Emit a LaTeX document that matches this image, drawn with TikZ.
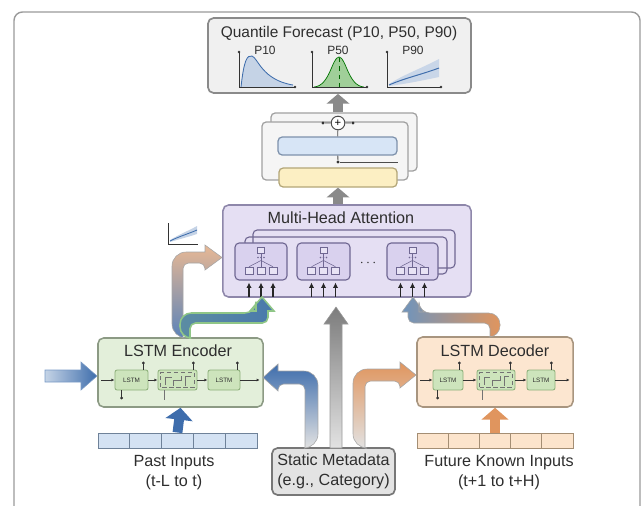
\documentclass[tikz,border=0pt]{standalone}
\usepackage{fontspec}
\setmainfont{Liberation Sans}
\usetikzlibrary{arrows.meta,positioning,calc}

\definecolor{txtgray}{HTML}{2E2E2E}
\definecolor{framegray}{HTML}{9A9A9A}
\definecolor{boxgray}{HTML}{F0F0F0}
\definecolor{edgegray}{HTML}{8A8A8A}
\definecolor{mhafill}{HTML}{E5DFF3}
\definecolor{mhaedge}{HTML}{8E87AA}
\definecolor{headfill}{HTML}{D9D1EE}
\definecolor{headedge}{HTML}{6F6792}
\definecolor{encfill}{HTML}{E3EFDA}
\definecolor{encedge}{HTML}{8C9A84}
\definecolor{decfill}{HTML}{FCE6D0}
\definecolor{decedge}{HTML}{A8957F}
\definecolor{cellfill}{HTML}{CDE4BC}
\definecolor{celledge}{HTML}{8DB07A}
\definecolor{pastfill}{HTML}{D4E2F3}
\definecolor{pastedge}{HTML}{6F8299}
\definecolor{futfill}{HTML}{FCE4CC}
\definecolor{futedge}{HTML}{A48E74}
\definecolor{metafill}{HTML}{E3E3E3}
\definecolor{metaedge}{HTML}{777777}
\definecolor{normfill}{HTML}{D7E5F6}
\definecolor{normedge}{HTML}{7E92AC}
\definecolor{grnfill}{HTML}{FCEFC3}
\definecolor{grnedge}{HTML}{B3A678}
\definecolor{arrowblue}{HTML}{3E6DAC}
\definecolor{arrowpale}{HTML}{C5D4E6}
\definecolor{arroworange}{HTML}{E0955E}
\definecolor{arrowtan}{HTML}{E8B894}
\definecolor{arrowgray}{HTML}{8A8A8A}
\definecolor{arrowteal}{HTML}{4A79AC}
\definecolor{arrowgreen}{HTML}{8FC687}
\definecolor{fadegray}{HTML}{E2E2E2}

\begin{document}
\begin{tikzpicture}[
		x=0.025cm, y=-0.025cm,
		>=Latex,
		label/.style={font=\fontsize{11.5}{14.2}\selectfont, text=txtgray, align=center},
		plabel/.style={font=\fontsize{8.5}{9}\selectfont, text=txtgray},
		qbox/.style={draw=edgegray, fill=boxgray, rounded corners=4pt, line width=1.2pt, inner sep=0pt},
		layer/.style={draw=edgegray!80, fill=black!4, rounded corners=3pt, line width=0.9pt, inner sep=0pt},
		bar/.style={rounded corners=3pt, line width=0.9pt, inner sep=0pt},
		mha/.style={draw=mhaedge, fill=mhafill, rounded corners=4pt, line width=1.1pt, inner sep=0pt},
		head/.style={draw=headedge, fill=headfill, rounded corners=3pt, line width=0.8pt, inner sep=0pt, minimum height=0.925cm},
		layerline/.style={draw=headedge, line width=0.8pt, rounded corners=3pt},
		minibox/.style={draw=headedge, fill=headfill!60, line width=0.4pt, inner sep=0pt},
		miniline/.style={draw=headedge, line width=0.4pt},
		lstmbox/.style={rounded corners=4pt, line width=1.1pt, inner sep=0pt},
		cell/.style={draw=celledge, fill=cellfill, rounded corners=1.5pt, line width=0.6pt, inner sep=0pt,
			minimum height=0.5cm, font=\fontsize{4.5}{5}\selectfont, text=txtgray},
		gateline/.style={draw=black!55, line width=0.4pt},
		flow/.style={draw=black!80, line width=0.5pt, -{Latex[length=2.2pt,width=2pt]}},
		knob/.style={draw=black!80, line width=0.5pt, -{Circle[length=2pt]}},
		stem/.style={draw=black!85, line width=0.9pt, -{Latex[length=3.8pt,width=3.8pt]}},
		dot/.style={circle, fill=black!80, inner sep=0pt, minimum size=2.4pt},
		incell/.style={line width=0.7pt, inner sep=0pt, minimum height=0.375cm},
		fatup/.style={line width=7pt, -{Triangle[width=19pt,length=8.5pt]}},
		axisline/.style={draw=black!80, line width=0.6pt}
	]
	\useasboundingbox (0,0) rectangle (644,506);
	\draw[framegray, line width=1pt, rounded corners=6pt] (14,506) -- (14,12) -- (640,12) -- (640,506);
	
	% quantile forecast
	\node[qbox, minimum width=6.575cm, minimum height=1.875cm] (quant) at (339.5,55.5) {};
	\node[label, font=\fontsize{11}{13}\selectfont] (qtitle) at (339,33) {Quantile Forecast (P10, P50, P90)};
	
	\fill[arrowblue!30] (241,87) .. controls (244,60) and (247,55) .. (252,56) .. controls (258,58) and (262,80) .. (293,85) -- (293,87) -- cycle;
	\draw[arrowblue, line width=0.6pt] (241,87) .. controls (244,60) and (247,55) .. (252,56) .. controls (258,58) and (262,80) .. (293,85);
	\draw[axisline] (239,52) -- (239,87) -- (295,87);
	\fill[black!80] (239,52) circle (1.4) (295,87) circle (1.4);
	\node[plabel] (p10) at (265,50) {P10};
	
	\fill[arrowgreen!85] (314,87) .. controls (330,86) and (332,57) .. (339,57) .. controls (346,57) and (348,86) .. (364,87) -- cycle;
	\draw[green!45!black, line width=0.5pt] (314,87) .. controls (330,86) and (332,57) .. (339,57) .. controls (346,57) and (348,86) .. (364,87);
	\draw[green!40!black, dashed, line width=0.3pt] (339,58) -- (339,87);
	\draw[axisline] (312,52) -- (312,87) -- (367,87);
	\fill[black!80] (312,52) circle (1.4) (367,87) circle (1.4);
	\node[plabel] (p50) at (338,50) {P50};
	
	\fill[arrowblue!28] (389,84) .. controls (405,74) and (420,69) .. (439,59) -- (439,77) .. controls (420,81) and (405,84) .. (389,86) -- cycle;
	\draw[arrowblue, line width=0.7pt] (389,85) .. controls (405,78) and (420,75) .. (439,68);
	\draw[axisline] (387,52) -- (387,87) -- (441,87);
	\fill[black!80] (387,52) circle (1.4) (441,87) circle (1.4);
	\node[plabel] (p90) at (413,50) {P90};
	
	% add & norm stack
	\node[layer, minimum width=3.65cm, minimum height=1.45cm] (back) at (344,142) {};
	\node[layer, minimum width=3.65cm, minimum height=1.45cm] (stack) at (335,151) {};
	\node[bar, draw=normedge, fill=normfill, minimum width=2.975cm, minimum height=0.45cm] (norm) at (337.5,146) {};
	\node[bar, draw=grnedge, fill=grnfill, minimum width=2.95cm, minimum height=0.475cm] (grn) at (338,177.5) {};
	\node[circle, draw=black!70, fill=white, line width=0.7pt, minimum size=0.34cm, inner sep=0pt,
	font=\fontsize{8}{8}\selectfont] (add) at (338,123) {+};
	\node[dot] (addl) at (323,123) {};
	\node[dot] (addr) at (353,123) {};
	\node[dot] (res) at (338,162) {};
	\draw[black!70, line width=0.6pt] (addl) -- (add) (addr) -- (add) (add) -- (norm) (res) -- (norm);
	\draw[black!70, line width=0.6pt] (res) -- (res -| grn.east);
	
	\draw[fatup, arrowgray, -{Triangle[width=16pt,length=7pt]}] (add.north |- back.north) -- (add.north |- quant.south);
	
	% multi-head attention
	\node[mha, minimum width=6.2cm, minimum height=2.3cm] (mha) at (347,251) {};
	\node[label] (mtitle) at (341,218) {Multi-Head Attention};
	\draw[layerline] (253,243) -- (253,230) -- (455,230) -- (455,268) -- (438,268);
	\draw[layerline] (245,243) -- (245,237) -- (447,237) -- (447,274) -- (438,274);
	\node[head, minimum width=1.3cm] (h1) at (261,261.5) {};
	\node[head, minimum width=1.325cm] (h2) at (323.5,261.5) {};
	\node[head, minimum width=1.275cm] (h3) at (412.5,261.5) {};
	\node[text=txtgray] (hdots) at (368,263) {$\cdots$};
	\foreach \h in {h1,h2,h3} {
		\node[minibox, minimum width=0.175cm, minimum height=0.15cm] (top\h) at ($(\h)+(0,-11)$) {};
		\foreach \d in {-3,0,3}
			\fill[headedge] ($(\h)+(\d,-4)$) circle (0.9);
		\foreach \d/\k in {-12/a,0/b,12/c} {
			\node[minibox, minimum width=0.2cm, minimum height=0.175cm] (\k\h) at ($(\h)+(\d,9)$) {};
			\draw[miniline] ($(\h)+(0,-1)$) -- (\k\h.north);
			\draw[stem] ($(\h.south)+(\d,16)$) -- ($(\h.south)+(\d,2)$);
		}
		\draw[miniline] (top\h) -- ($(\h)+(0,-1)$);
	}
	\draw[fatup, arrowgray, -{Triangle[width=16pt,length=7pt]}] (grn.south |- mha.north) -- (grn.south);
	
	% small forecast icon
	\fill[arrowblue!30] (170,240) .. controls (180,234) and (188,231) .. (197,226) -- (197,234) .. controls (188,237) and (180,239) .. (170,242) -- cycle;
	\draw[arrowblue, line width=0.6pt] (170,241) .. controls (180,236) and (188,234) .. (197,230);
	\draw[axisline, line width=0.4pt] (168,223) -- (168,244) -- (198,244);
	
	% lstm encoder
	\node[lstmbox, draw=encedge, fill=encfill, minimum width=4.125cm, minimum height=1.725cm] (enc) at (180.5,372.5) {};
	\node[label] (etitle) at (178,351) {LSTM Encoder};
	\node[cell, minimum width=0.825cm] (e1) at (131.5,380) {LSTM};
	\node[cell, minimum width=0.975cm] (e2) at (177.5,380) {};
	\node[cell, minimum width=0.8cm] (e3) at (224,380) {LSTM};
	\draw[flow] ($(enc.west |- e1.west)+(4,0)$) -- (e1);
	\draw[flow] (e1) -- (e2);
	\draw[flow] (e2) -- (e3);
	\draw[flow] (e3) -- ($(enc.east |- e3.east)+(-4,0)$);
	\draw[knob] ($(e1.north east)+(-5,0)$) -- ++(0,-8);
	\draw[knob] ($(e2.north east)+(-4,0)$) -- ++(0,-8);
	\draw[knob] ($(e3.north east)+(-3,0)$) -- ++(0,-8);
	\draw[knob] ($(e1.south west)+(7,0)$) -- ++(0,9);
	\draw[gateline] ($(e2.south west)+(7,0)$) -- ++(0,10);
	
	% lstm decoder
	\node[lstmbox, draw=decedge, fill=decfill, minimum width=3.9cm, minimum height=1.75cm] (dec) at (495,372) {};
	\node[label] (dtitle) at (495,351) {LSTM Decoder};
	\node[cell, minimum width=0.75cm] (d1) at (448,380) {LSTM};
	\node[cell, minimum width=0.95cm] (d2) at (496,380) {};
	\node[cell, minimum width=0.7cm] (d3) at (541,380) {LSTM};
	\draw[flow] ($(dec.west |- d1.west)+(4,0)$) -- (d1);
	\draw[flow] (d1) -- (d2);
	\draw[flow] (d2) -- (d3);
	\draw[flow] (d3) -- ($(dec.east |- d3.east)+(-4,0)$);
	\draw[knob] ($(d1.north east)+(-4,0)$) -- ++(0,-8);
	\draw[knob] ($(d2.north east)+(-5,0)$) -- ++(0,-8);
	\draw[knob] ($(d3.north east)+(-4,0)$) -- ++(0,-8);
	\draw[knob] ($(d1.south west)+(5,0)$) -- ++(0,9);
	\draw[gateline] ($(d2.south west)+(6,0)$) -- ++(0,10);
	
	\foreach \g in {e2,d2} {
		\draw[gateline, densely dashed] ($(\g.south west)+(3,-3)$) rectangle ($(\g.north east)+(-3,3)$);
		\draw[gateline] ($(\g.center)+(-12,5)$) -- ++(0,-8) -- ++(6,0);
		\draw[gateline] ($(\g.center)+(-4,6)$) -- ++(0,-6) -- ++(8,0) -- ++(0,-4);
		\draw[gateline] ($(\g.center)+(8,6)$) -- ++(0,-10) -- ++(5,0);
	}
	
	% inputs
	\foreach \i in {0,...,4}
		\node[incell, draw=pastedge, fill=pastfill, minimum width=0.795cm] (p\i) at ({113.9+31.8*\i},440.5) {};
	\node[label] (pastlbl) at (174,473) {Past Inputs\\(t-L to t)};
	\foreach \i in {0,...,4}
		\node[incell, draw=futedge, fill=futfill, minimum width=0.78cm] (f\i) at ({432.6+31.2*\i},440.5) {};
	\node[label] (futlbl) at (499,473) {Future Known Inputs\\(t+1 to t+H)};
	\node[label, draw=metaedge, fill=metafill, rounded corners=4pt, line width=1.2pt, inner sep=0pt,
	minimum width=3.075cm, minimum height=1.175cm] (meta) at (333.5,471.5) {Static Metadata\\(e.g., Category)};
	
	\draw[fatup, arrowblue] (p2.north) -- (enc.south);
	\draw[fatup, arroworange] (f2.north) -- (dec.south);
	
	% wide arrows
	\shadedraw[left color=arrowpale, right color=arrowblue, draw=arrowblue!70, line width=0.4pt]
	(45,370) -- (81,370) -- (81,362) -- (97,376) -- (81,390) -- (81,382) -- (45,382) -- cycle;
	
	\shadedraw[top color=arrowblue, bottom color=fadegray, draw=black!35, line width=0.4pt]
	(305,448) [rounded corners=4pt] -- (305,384) -- (278,384) [sharp corners] -- (278,391) -- (263,377.5)
	-- (278,364) -- (278,371) [rounded corners=10pt] -- (318,371) -- (318,448) [sharp corners] -- cycle;
	
	\shadedraw[top color=arrowgray!90!black, bottom color=fadegray, draw=black!40, line width=0.4pt]
	(330,448) -- (330,324) -- (324,324) -- (336,307) -- (348,324) -- (342,324) -- (342,448) -- cycle;
	
	\shadedraw[top color=arroworange, bottom color=fadegray, draw=black!35, line width=0.4pt]
	(365,448) [rounded corners=4pt] -- (365,381) -- (400,381) [sharp corners] -- (400,388) -- (416,375)
	-- (400,362) -- (400,369) [rounded corners=10pt] -- (353,369) -- (353,448) [sharp corners] -- cycle;
	
	\shadedraw[top color=arrowtan, bottom color=arrowblue!85, draw=black!35, line width=0.4pt]
	(183,338) [rounded corners=4pt] -- (183,263) -- (205,263) [sharp corners] -- (205,270) -- (222,257.5)
	-- (205,245) -- (205,252) [rounded corners=10pt] -- (172,252) -- (172,338) [sharp corners] -- cycle;
	
	\shadedraw[left color=arrowteal!75!arrowgreen, right color=arrowteal, draw=arrowgreen, line width=1.1pt]
	(190,338) [rounded corners=4pt] -- (190,323) -- (268,323) [sharp corners] -- (268,311) -- (274,311)
	-- (262,297) -- (250,311) -- (256,311) [rounded corners=8pt] -- (256,313) -- (180,313) -- (180,338) [sharp corners] -- cycle;
	
	\shadedraw[left color=arrowteal!80, right color=arroworange, draw=black!35, line width=0.4pt]
	(490,337) [rounded corners=4pt] -- (490,323) -- (408,323) [sharp corners] -- (408,312) -- (402,312)
	-- (413,297) -- (424,312) -- (419,312) [rounded corners=8pt] -- (419,313) -- (500,313) -- (500,337) [sharp corners] -- cycle;
\end{tikzpicture}
\end{document}
